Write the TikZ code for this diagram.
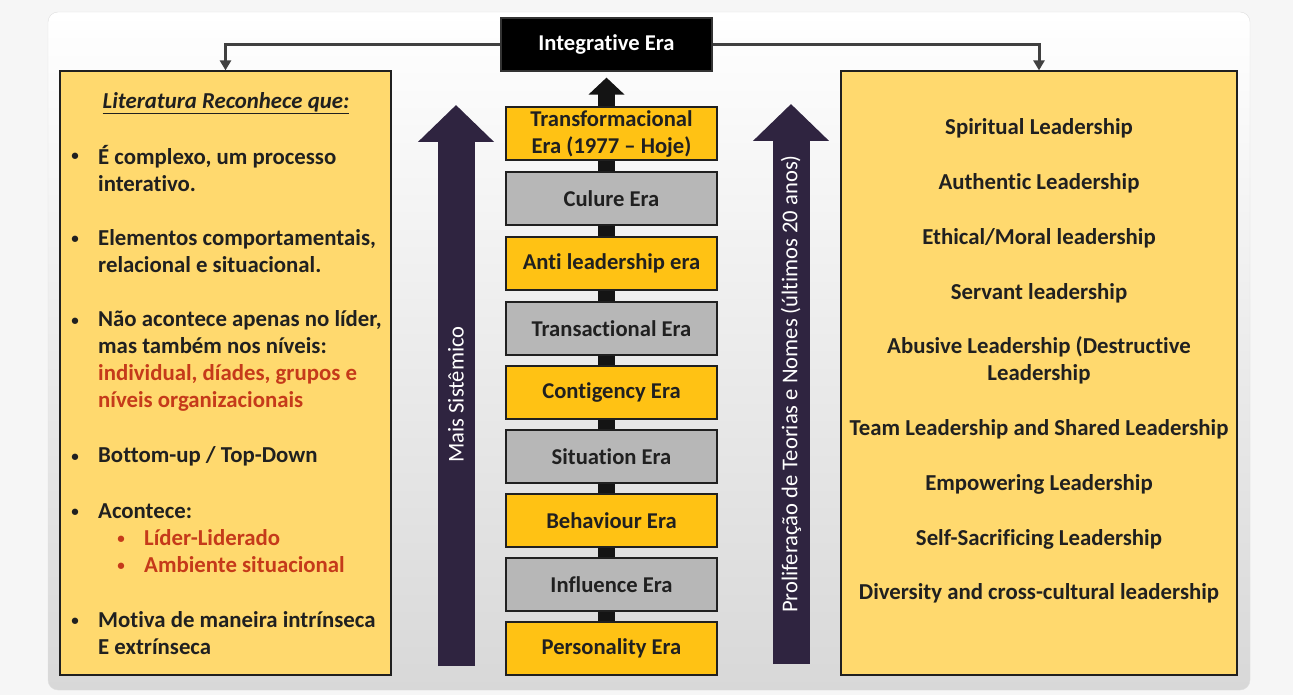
\documentclass[tikz,border=0pt]{standalone}
\usepackage{fontspec}
\setmainfont{Carlito}[Ligatures={TeX,NoCommon}]
\usetikzlibrary{arrows.meta}

\definecolor{outerbg}{RGB}{246,246,246}
\definecolor{panelbot}{RGB}{216,216,216}
\definecolor{sidefill}{RGB}{255,217,110}
\definecolor{eragold}{RGB}{255,194,20}
\definecolor{eragray}{RGB}{183,183,183}
\definecolor{darktxt}{RGB}{32,32,32}
\definecolor{redtxt}{RGB}{197,58,26}
\definecolor{purplearr}{RGB}{47,36,64}
\definecolor{connline}{RGB}{64,64,64}

\tikzset{
    erabox/.style={draw=darktxt, line width=1.2pt, minimum width=211pt, minimum height=53pt,
        inner sep=2pt, align=center, text=darktxt, font=\bfseries\fontsize{22.6}{27}\selectfont},
    goldera/.style={erabox, fill=eragold},
    grayera/.style={erabox, fill=eragray},
    sidebox/.style={draw=darktxt, line width=1.2pt, fill=sidefill, minimum height=604pt},
    sidetxt/.style={inner sep=0pt, align=left, anchor=west, text=darktxt, font=\bfseries\fontsize{22.8}{27}\selectfont},
    righttxt/.style={inner sep=0pt, align=center, text=darktxt, font=\bfseries\fontsize{22.8}{27}\selectfont},
    dot/.style={inner sep=0pt, text=darktxt, font=\bfseries\fontsize{15}{18}\selectfont},
    conn/.style={draw=connline, line width=3pt, -{Triangle[width=11pt,length=10pt]}},
    bigarrow/.style={draw=purplearr, line width=37pt, -{Triangle[width=74pt,length=37pt]}},
    arrowtxt/.style={text=white, inner sep=0pt, font=\fontsize{22.6}{26}\selectfont},
}

\begin{document}
\begin{tikzpicture}[x=1pt, y=-1pt]
    \path[use as bounding box, fill=outerbg] (0,0) rectangle (1293,695);
    \shade[top color=white, bottom color=panelbot, rounded corners=10pt, draw=gray!25] (48,12) rectangle (1250,690);

    % side boxes
    \node[sidebox, minimum width=331pt] (leftbox) at (225.5,373) {};
    \node[sidebox, minimum width=396pt] (rightbox) at (1039,373) {};

    % top of the column
    \node[erabox, fill=black, draw=black!80, text=white] (integ) at (606.5,44.5) {Integrative Era};
    \draw[conn] (integ.west) -| (leftbox.north);
    \draw[conn] (integ.east) -| (rightbox.north);

    % eras
    \node[goldera] (personality) at (611.5,648.5) {Personality Era};
    \draw[line width=17pt, draw=black!92, -{Triangle[width=35pt,length=17pt]}]
        (integ.south |- personality.north) -- ([yshift=-6pt]integ.south);
    \node[grayera] (influence) at (611.5,584.5) {Influence Era};
    \node[goldera] (behaviour) at (611.5,520.5) {Behaviour Era};
    \node[grayera] (situation) at (611.5,456.5) {Situation Era};
    \node[goldera] (contingency) at (611.5,392.5) {Contigency Era};
    \node[grayera] (transactional) at (611.5,328.5) {Transactional Era};
    \node[goldera] (antilead) at (611.5,263.5) {Anti leadership era};
    \node[grayera] (culture) at (611.5,198.5) {Culure Era};
    \node[goldera] (transform) at (611.5,133.5) {Transformacional\\Era (1977 – Hoje)};

    % big arrows
    \draw[bigarrow] (456,666) -- node[pos=.484, sloped, arrowtxt] (maissis) {Mais Sistêmico} (456,105);
    \draw[bigarrow] (791,664) -- node[pos=.5, sloped, arrowtxt] (prolif) {Proliferação de Teorias e Nomes (últimos 20 anos)} (791,104);

    % left text
    \node[inner sep=0pt, text=darktxt, font=\bfseries\itshape\fontsize{22.8}{27}\selectfont] (littitle) at (226,103) {\underline{Literatura Reconhece que:}};
    \node[dot] (d1) at (75,157) {\textbullet};
    \node[sidetxt] (it1) at (98,169) {É complexo, um processo\\interativo.};
    \node[dot] (d2) at (75,240) {\textbullet};
    \node[sidetxt] (it2) at (98,251.5) {Elementos comportamentais,\\relacional e situacional.};
    \node[dot] (d3) at (75,322) {\textbullet};
    \node[sidetxt] (it3) at (98,360.5) {Não acontece apenas no líder,\\mas também nos níveis:\\\textcolor{redtxt}{individual, díades, grupos e}\\\textcolor{redtxt}{níveis organizacionais}};
    \node[dot] (d4) at (75,458) {\textbullet};
    \node[sidetxt] (it4) at (98,456) {Bottom-up / Top-Down};
    \node[dot] (d5) at (75,513) {\textbullet};
    \node[sidetxt] (it5) at (98,511) {Acontece:};
    \node[dot, text=redtxt] (d5a) at (121,540) {\textbullet};
    \node[sidetxt, text=redtxt] (it5a) at (144,538) {Líder-Liderado};
    \node[dot, text=redtxt] (d5b) at (121,567) {\textbullet};
    \node[sidetxt, text=redtxt] (it5b) at (144,565) {Ambiente situacional};
    \node[dot] (d6) at (75,622) {\textbullet};
    \node[sidetxt] (it6) at (98,633.5) {Motiva de maneira intrínseca\\E extrínseca};

    % right text
    \node[righttxt] (spiritual) at (1039,128) {Spiritual Leadership};
    \node[righttxt] (authentic) at (1039,183) {Authentic Leadership};
    \node[righttxt] (ethical) at (1039,238) {Ethical/Moral leadership};
    \node[righttxt] (servant) at (1039,293) {Servant leadership};
    \node[righttxt] (abusive) at (1039,360.5) {Abusive Leadership (Destructive\\Leadership};
    \node[righttxt] (team) at (1039,429) {Team Leadership and Shared Leadership};
    \node[righttxt] (empower) at (1039,484) {Empowering Leadership};
    \node[righttxt] (selfsac) at (1039,539) {Self-Sacrificing Leadership};
    \node[righttxt] (diversity) at (1039,593) {Diversity and cross-cultural leadership};
\end{tikzpicture}
\end{document}
